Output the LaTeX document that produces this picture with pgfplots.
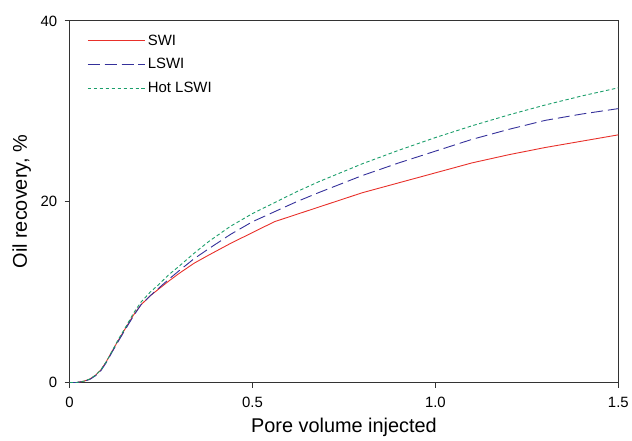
\documentclass[border=0pt]{standalone}
\usepackage{pgfplots}
\pgfplotsset{compat=1.18}
\usepackage{fontspec}
\setmainfont{Liberation Sans}
\definecolor{cswi}{HTML}{E8302A}
\definecolor{clswi}{HTML}{34309A}
\definecolor{chot}{HTML}{1A9E6A}
\begin{document}
\begin{tikzpicture}
\begin{axis}[
  scale only axis, width=552pt, height=364pt,
  xmin=0, xmax=1.5, ymin=0, ymax=40,
  xtick={0,0.5,1.0,1.5}, xticklabels={0,0.5,1.0,1.5},
  ytick={0,20,40},
  tick align=outside, xtick pos=bottom, ytick pos=left,
  major tick length=5pt,
  axis line style={line width=1pt, black!80},
  tick style={line width=0.8pt, black!80},
  tick label style={font=\fontsize{15}{17}\selectfont},
  yticklabel style={xshift=-4pt},
  xticklabel style={yshift=-6pt},
  /pgf/number format/assume math mode=true,
  xlabel={Pore volume injected}, ylabel={Oil recovery, \%},
  label style={font=\fontsize{20}{22}\selectfont},
  xlabel style={at={(axis description cs:0.5,-0.1236)}, anchor=center},
  ylabel style={at={(axis description cs:-0.087,0.5)}, anchor=center},
  legend style={draw=none, fill=none, inner sep=0pt, at={(0.032,0.968)}, anchor=north west, font=\fontsize{15}{17}\selectfont, row sep=8pt},
  legend cell align=left,
  legend image code/.code={\draw[#1] (0pt,0pt) -- (52pt,0pt); \path (0pt,0pt) -- (58pt,0pt);},
  clip mode=individual,
]
\addplot[cswi, line width=0.9pt] coordinates {(0,0) (0.02,0.03) (0.04,0.18) (0.055,0.4) (0.07,0.8) (0.085,1.4) (0.1,2.3) (0.115,3.4) (0.132,4.6) (0.154,6.1) (0.175,7.5) (0.195,8.6) (0.22,9.6) (0.245,10.4) (0.27,11.2) (0.3,12.1) (0.34,13.2) (0.38,14.1) (0.44,15.4) (0.5,16.6) (0.56,17.8) (0.62,18.6) (0.68,19.4) (0.8,21.0) (0.9,22.1) (1.0,23.2) (1.1,24.3) (1.2,25.2) (1.3,26.0) (1.4,26.7) (1.5,27.4)};
\addlegendentry{SWI}
\addplot[clswi, line width=0.9pt, dash pattern=on 12pt off 5pt] coordinates {(0,0) (0.02,0.03) (0.04,0.16) (0.055,0.36) (0.07,0.75) (0.085,1.3) (0.1,2.2) (0.115,3.3) (0.132,4.5) (0.154,6.0) (0.175,7.4) (0.195,8.6) (0.22,9.6) (0.245,10.5) (0.27,11.4) (0.3,12.4) (0.34,13.7) (0.38,14.8) (0.44,16.4) (0.5,17.8) (0.56,18.9) (0.62,20.0) (0.68,21.0) (0.8,22.9) (0.9,24.3) (1.0,25.6) (1.1,26.9) (1.2,28.0) (1.3,29.0) (1.4,29.7) (1.5,30.3)};
\addlegendentry{LSWI}
\addplot[chot, line width=0.9pt, dash pattern=on 3.5pt off 2.5pt] coordinates {(0,0) (0.02,0.03) (0.04,0.18) (0.055,0.4) (0.07,0.8) (0.085,1.4) (0.1,2.3) (0.115,3.4) (0.132,4.7) (0.154,6.2) (0.175,7.7) (0.195,8.9) (0.22,10.0) (0.245,10.9) (0.27,11.9) (0.3,12.9) (0.34,14.3) (0.38,15.6) (0.44,17.3) (0.5,18.7) (0.56,19.9) (0.62,21.1) (0.68,22.2) (0.8,24.2) (0.9,25.7) (1.0,27.1) (1.1,28.4) (1.2,29.6) (1.3,30.7) (1.4,31.7) (1.5,32.6)};
\addlegendentry{Hot LSWI}
\coordinate (ll) at (rel axis cs:0,0);
\coordinate (ur) at (rel axis cs:1,1);
\end{axis}
\useasboundingbox ([shift={(-70pt,-55pt)}]ll) rectangle ([shift={(10pt,21pt)}]ur);
\end{tikzpicture}
\end{document}
